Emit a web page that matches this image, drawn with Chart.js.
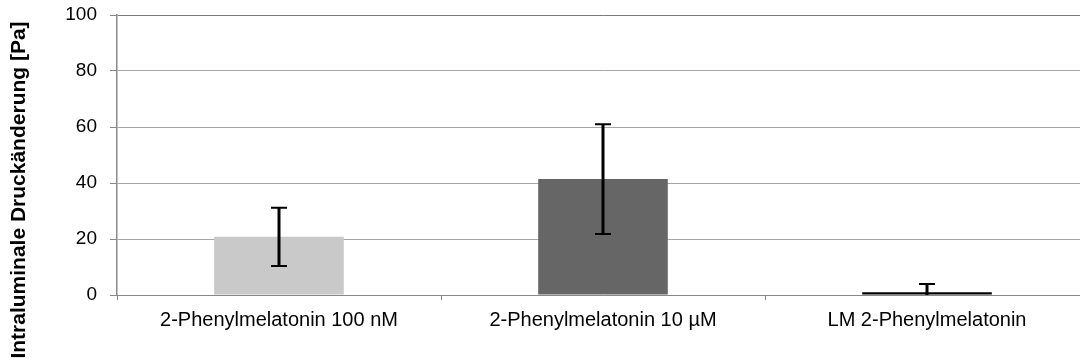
<!DOCTYPE html>
<html>
<head>
<meta charset="utf-8">
<script src="https://cdn.jsdelivr.net/npm/chart.js@4"></script>
<style>
  html, body { margin: 0; padding: 0; background: #fff; overflow: hidden; }
  #wrap { width: 1090px; height: 363px; position: relative; }
</style>
</head>
<body>
<div id="wrap"><canvas id="mainChart"></canvas></div>
<script>
// ── Data ──────────────────────────────────────
const categories = ['2-Phenylmelatonin 100 nM', '2-Phenylmelatonin 10 µM', 'LM 2-Phenylmelatonin'];
const means = [20.8, 41.4, 1.0];
const errors = [10.4, 19.6, 2.9];
const barColors = ['#c9c9c9', '#666666', '#000000'];
const yTicks = [0, 20, 40, 60, 80, 100];
const yTitle = 'Intraluminale Druckänderung [Pa]';

const FONT = '"Liberation Sans", Arial, sans-serif';

// ── Error bars (drawn through the y scale) ────
const errorBars = {
  id: 'errorBars',
  afterDatasetsDraw(chartInst) {
    const ctx = chartInst.ctx;
    const yScale = chartInst.scales.y;
    const area = chartInst.chartArea;
    const meta = chartInst.getDatasetMeta(0);
    ctx.save();
    ctx.beginPath();
    ctx.rect(area.left, area.top - 2, area.right - area.left, area.bottom - area.top + 2);
    ctx.clip();
    ctx.strokeStyle = '#000';
    meta.data.forEach((bar, i) => {
      const x = bar.x;
      const yHi = yScale.getPixelForValue(means[i] + errors[i]);
      const yLo = yScale.getPixelForValue(means[i] - errors[i]);
      ctx.lineWidth = 3;
      ctx.beginPath();
      ctx.moveTo(x, yHi);
      ctx.lineTo(x, yLo);
      ctx.stroke();
      ctx.lineWidth = 2;
      ctx.beginPath();
      ctx.moveTo(x - 8, yHi); ctx.lineTo(x + 8, yHi);
      ctx.moveTo(x - 8, yLo); ctx.lineTo(x + 8, yLo);
      ctx.stroke();
    });
    ctx.restore();
  }
};

// ── Y axis title (sits lower than the axis centre, as in Excel) ──
const axisTitle = {
  id: 'axisTitle',
  afterDraw(chartInst) {
    const ctx = chartInst.ctx;
    ctx.save();
    ctx.translate(19, 190);
    ctx.rotate(-Math.PI / 2);
    ctx.fillStyle = '#000';
    ctx.font = 'bold 21px ' + FONT;
    ctx.textAlign = 'center';
    ctx.textBaseline = 'middle';
    ctx.fillText(yTitle, 0, 0);
    ctx.restore();
  }
};

new Chart(document.getElementById('mainChart'), {
  type: 'bar',
  data: {
    labels: categories,
    datasets: [{
      data: means,
      backgroundColor: barColors,
      borderWidth: 0,
      barPercentage: 0.4,
      categoryPercentage: 1.0
    }]
  },
  options: {
    responsive: true,
    maintainAspectRatio: false,
    animation: false,
    layout: { padding: { top: 15, right: 1, left: 0, bottom: 0 } },
    plugins: { legend: { display: false }, tooltip: { enabled: false } },
    scales: {
      x: {
        grid: {
          offset: true,
          drawOnChartArea: false,
          drawTicks: true,
          tickLength: 5,
          color: '#888'
        },
        border: { color: '#888', width: 1 },
        ticks: {
          color: '#000',
          padding: 8,
          maxRotation: 0,
          autoSkip: false,
          font: { family: FONT, size: 20 }
        },
        afterFit(scale) {
          scale.height = 68;
          scale.paddingLeft = 0;
          scale.paddingRight = 0;
        }
      },
      y: {
        min: 0,
        max: 100,
        afterBuildTicks(scale) { scale.ticks = yTicks.map(v => ({ value: v })); },
        grid: {
          color: ctx => ctx.tick && ctx.tick.value === 100 ? '#7a7a7a' : '#a6a6a6',
          lineWidth: 1,
          tickLength: 7,
          tickColor: '#888'
        },
        border: { color: '#8a8a8a', width: 1.5 },
        ticks: {
          color: '#000',
          padding: 13,
          font: { family: FONT, size: 19 }
        },
        afterFit(scale) {
          scale.width = 117;
          scale.paddingTop = 0;
          scale.paddingBottom = 0;
        }
      }
    }
  },
  plugins: [errorBars, axisTitle]
});
</script>
</body>
</html>
